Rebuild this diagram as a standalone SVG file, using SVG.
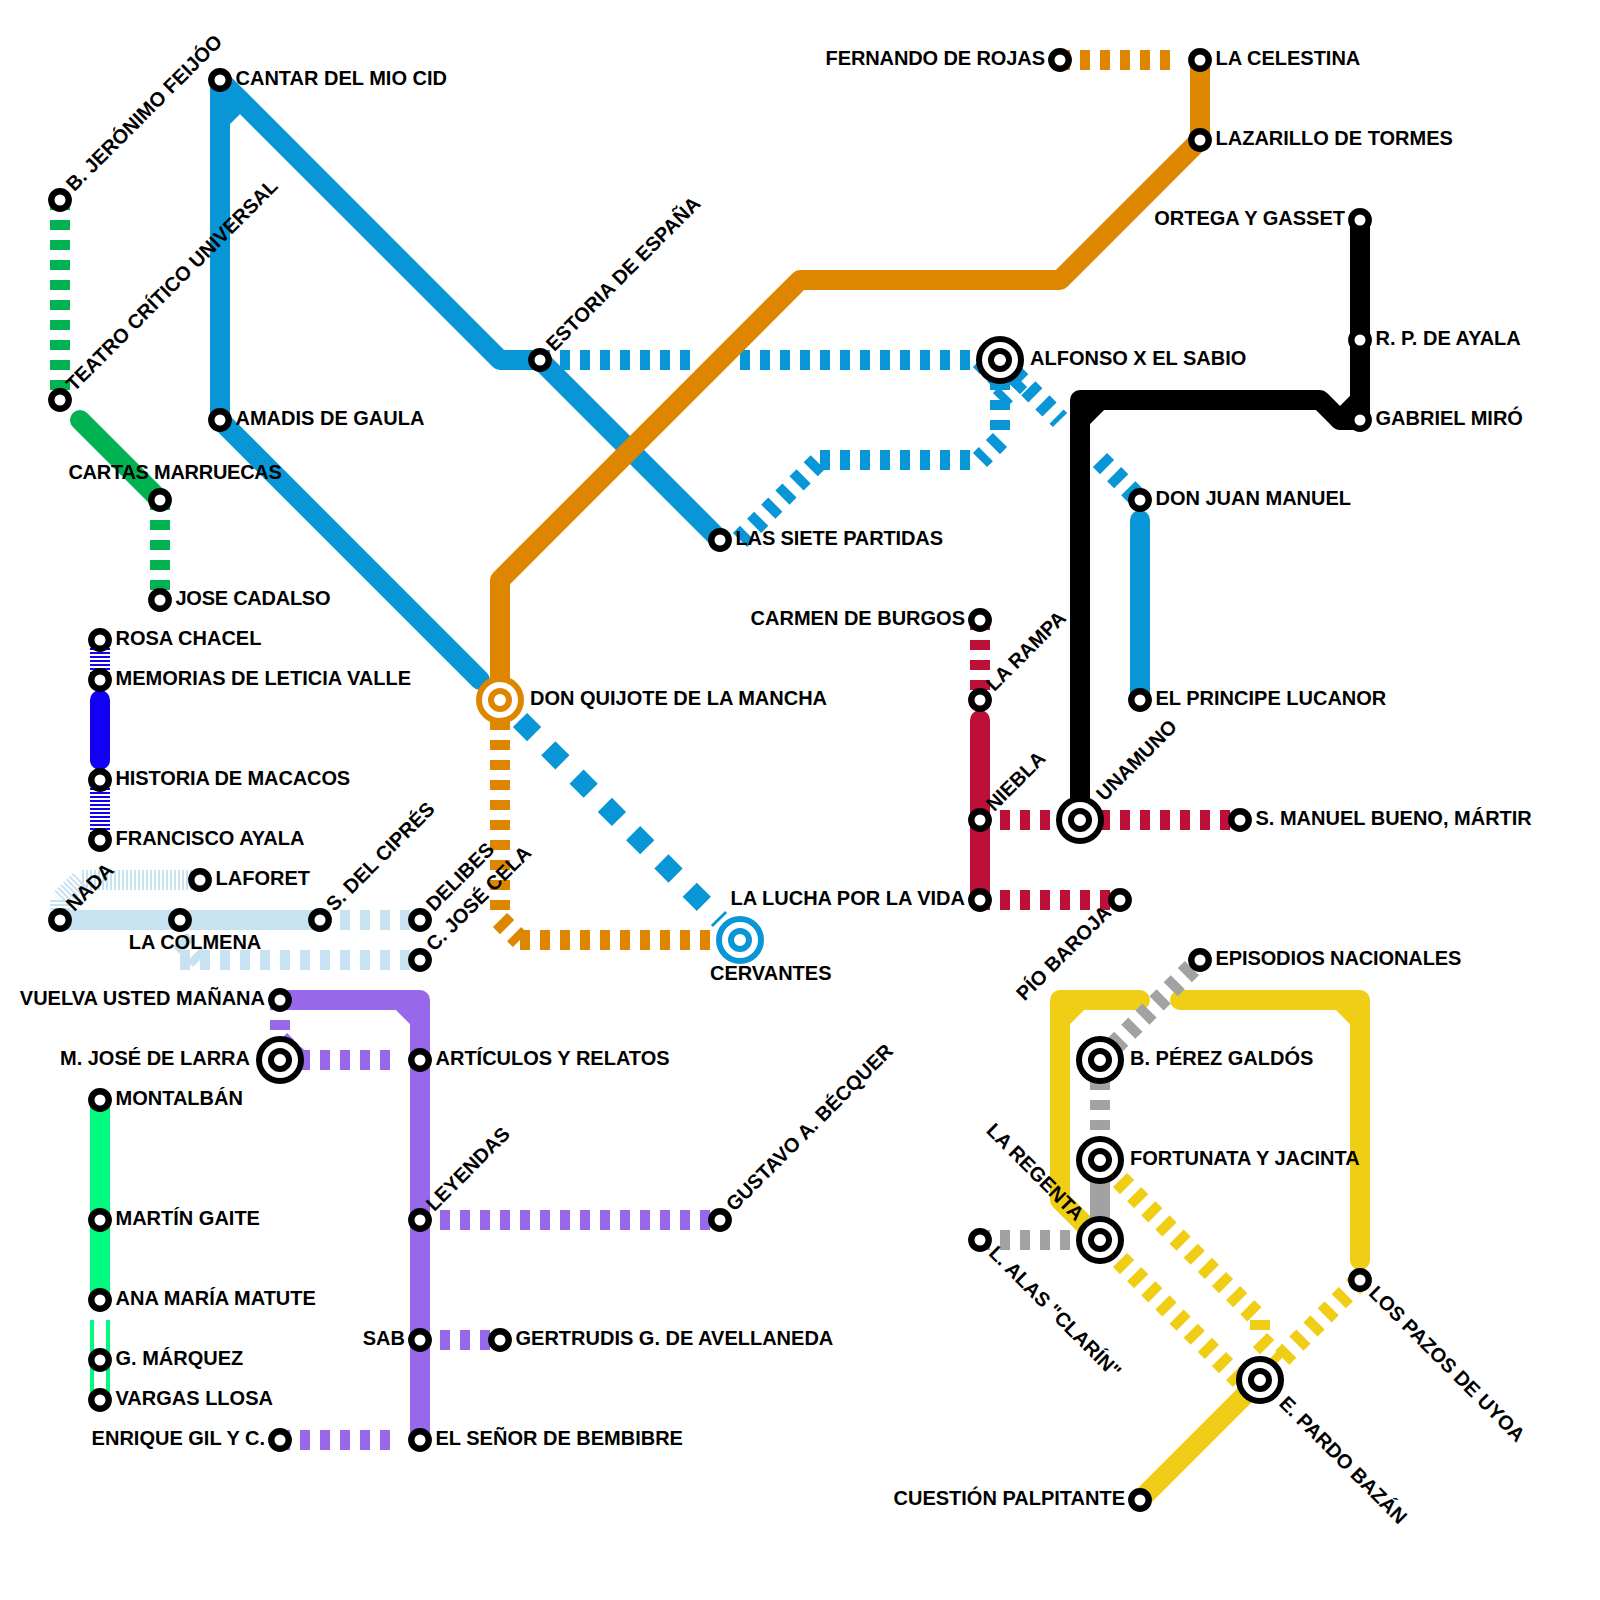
<svg xmlns="http://www.w3.org/2000/svg" width="1600" height="1600" viewBox="0 0 1600 1600">
<style>
.l{fill:none;stroke-width:20}
.r{stroke-linecap:round;stroke-linejoin:round}
.d{stroke-dasharray:10 10}
.q{stroke-dasharray:20 20}
.n{stroke-dasharray:2 2}
.blue{stroke:#0896d7}.orange{stroke:#df8600}.green{stroke:#00b251}.red{stroke:#bd1038}.yellow{stroke:#f0ce15}.black{stroke:#000}.gray{stroke:#a2a2a2}.sky{stroke:#c7e3f1}.purple{stroke:#9868eb}.mint{stroke:#00fb7f}.navy{stroke:#1200f5}
.s{fill:#fff;stroke:#000;stroke-width:6.4}
.i{fill:#fff;stroke:#000;stroke-width:6}
text{font-family:"Liberation Sans",Arial,sans-serif;font-weight:700;font-size:20px;fill:#000}
.e{text-anchor:end}.m{text-anchor:middle}
</style>
<rect width="1600" height="1600" fill="#fff"/>
<g id="connectors">
<path class="l d green" d="M60 200V400"/>
<path class="l r green" d="M80 420L160 500"/>
<path class="l d green" d="M160 500V600"/>
<path class="l n navy" d="M100 640V680"/>
<path class="l r navy" d="M100 700V760"/>
<path class="l n navy" d="M100 780V840"/>
<path class="l n sky" d="M200 880H80"/>
<path class="l n sky" d="M80 880L60 900"/>
<path class="l n sky" d="M60 900V920"/>
<path class="l r sky" d="M60 920H320"/>
<path class="l d sky" d="M320 920H420"/>
<path class="l d sky" d="M180 920V940"/>
<path class="l d sky" d="M180 940L200 960"/>
<path class="l d sky" d="M180 960H420"/>
<path class="l r purple" d="M280 1000H420V1440"/>
<path class="l r purple" d="M400 1000L420 1020"/>
<path class="l d purple" d="M280 1000V1040"/>
<path class="l d purple" d="M280 1040L300 1060"/>
<path class="l d purple" d="M300 1060H400"/>
<path class="l d purple" d="M420 1220H720"/>
<path class="l d purple" d="M420 1340H500"/>
<path class="l d purple" d="M280 1440H400"/>
<path class="l r mint" d="M100 1100V1300"/>
<path class="l mint" d="M100 1320V1400"/>
<path fill="none" stroke="#fff" stroke-width="12" d="M100 1320V1400"/>
<path class="l r blue" d="M220 420V80L500 360H540L720 540"/>
<path class="l r blue" d="M220 120L240 100"/>
<path class="l r blue" d="M220 420L480 680"/>
<path class="l q blue" d="M520 720L720 920"/>
<path class="l d blue" d="M540 360H700"/>
<path class="l d blue" d="M740 360H1000"/>
<path class="l d blue" d="M1000 360L1060 420"/>
<path class="l d blue" d="M1100 460L1140 500"/>
<path class="l d blue" d="M980 360L1000 380"/>
<path class="l d blue" d="M1020 380L1000 400"/>
<path class="l d blue" d="M1000 360V440"/>
<path class="l d blue" d="M1000 440L980 460"/>
<path class="l d blue" d="M820 460H980"/>
<path class="l d blue" d="M740 540L820 460"/>
<path class="l r blue" d="M1140 520V700"/>
<path class="l d orange" d="M1060 60H1180"/>
<path class="l r orange" d="M1200 60V140L1060 280H800L500 580V700"/>
<path class="l d orange" d="M500 700V920"/>
<path class="l d orange" d="M500 920L520 940"/>
<path class="l d orange" d="M520 940H740"/>
<path class="l r black" d="M1080 820V400H1320L1340 420H1360V220"/>
<path class="l r black" d="M1080 420L1100 400"/>
<path class="l r black" d="M1340 420L1360 400"/>
<path class="l d red" d="M980 620V700"/>
<path class="l r red" d="M980 720V900"/>
<path class="l d red" d="M980 820H1080"/>
<path class="l d red" d="M1080 820H1240"/>
<path class="l d red" d="M980 900H1120"/>
<path class="l r yellow" d="M1140 1000H1060V1200L1100 1240"/>
<path class="l r yellow" d="M1060 1020L1080 1000"/>
<path class="l r yellow" d="M1180 1000H1360V1260"/>
<path class="l r yellow" d="M1340 1000L1360 1020"/>
<path class="l d gray" d="M1100 1060L1200 960"/>
<path class="l d gray" d="M1100 1060V1160"/>
<path class="l gray" d="M1100 1160V1240"/>
<path class="l d gray" d="M980 1240H1100"/>
<path class="l d yellow" d="M1120 1180L1260 1320"/>
<path class="l d yellow" d="M1260 1320V1340"/>
<path class="l d yellow" d="M1260 1340L1280 1360"/>
<path class="l d yellow" d="M1120 1260L1240 1380"/>
<path class="l d yellow" d="M1360 1280L1260 1380"/>
<path class="l r yellow" d="M1260 1380L1140 1500"/>
</g>
<g id="n-feijoo"><circle class="s" cx="60" cy="200" r="8.7"/><text x="75.5" y="204.5" transform="rotate(-45 60 200)">B. JERÓNIMO FEIJÓO</text></g>
<g id="n-teatro"><circle class="s" cx="60" cy="400" r="8.7"/><text x="75.5" y="404.5" transform="rotate(-45 60 400)">TEATRO CRÍTICO UNIVERSAL</text></g>
<g id="n-cartas"><circle class="s" cx="160" cy="500" r="8.7"/><text x="68.4" y="479" textLength="213.5">CARTAS MARRUECAS</text></g>
<g id="n-cadalso"><circle class="s" cx="160" cy="600" r="8.7"/><text x="175.5" y="604.5" textLength="155">JOSE CADALSO</text></g>
<g id="n-chacel"><circle class="s" cx="100" cy="640" r="8.7"/><text x="115.5" y="644.5">ROSA CHACEL</text></g>
<g id="n-memorias"><circle class="s" cx="100" cy="680" r="8.7"/><text x="115.5" y="684.5">MEMORIAS DE LETICIA VALLE</text></g>
<g id="n-macacos"><circle class="s" cx="100" cy="780" r="8.7"/><text x="115.5" y="784.5" textLength="234.7">HISTORIA DE MACACOS</text></g>
<g id="n-fayala"><circle class="s" cx="100" cy="840" r="8.7"/><text x="115.5" y="844.5">FRANCISCO AYALA</text></g>
<g id="n-laforet"><circle class="s" cx="200" cy="880" r="8.7"/><text x="215.5" y="884.5">LAFORET</text></g>
<g id="n-nada"><circle class="s" cx="60" cy="920" r="8.7"/><text x="75.5" y="924.5" transform="rotate(-45 60 920)">NADA</text></g>
<g id="n-colmena"><circle class="s" cx="180" cy="920" r="8.7"/><text class="m" x="195" y="949">LA COLMENA</text></g>
<g id="n-cipres"><circle class="s" cx="320" cy="920" r="8.7"/><text x="335.5" y="924.5" transform="rotate(-45 320 920)">S. DEL CIPRÉS</text></g>
<g id="n-delibes"><circle class="s" cx="420" cy="920" r="8.7"/><text x="435.5" y="924.5" transform="rotate(-45 420 920)">DELIBES</text></g>
<g id="n-cela"><circle class="s" cx="420" cy="960" r="8.7"/><text x="435.5" y="964.5" transform="rotate(-45 420 960)">C. JOSÉ CELA</text></g>
<g id="n-vuelva"><circle class="s" cx="280" cy="1000" r="8.7"/><text class="e" x="265" y="1004.5">VUELVA USTED MAÑANA</text></g>
<g id="n-larra"><circle class="i" cx="280" cy="1060" r="21"/><circle class="i" cx="280" cy="1060" r="9"/><text class="e" x="250" y="1064.5">M. JOSÉ DE LARRA</text></g>
<g id="n-articulos"><circle class="s" cx="420" cy="1060" r="8.7"/><text x="435.5" y="1064.5">ARTÍCULOS Y RELATOS</text></g>
<g id="n-leyendas"><circle class="s" cx="420" cy="1220" r="8.7"/><text x="435.5" y="1224.5" transform="rotate(-45 420 1220)">LEYENDAS</text></g>
<g id="n-becquer"><circle class="s" cx="720" cy="1220" r="8.7"/><text x="735.5" y="1224.5" transform="rotate(-45 720 1220)">GUSTAVO A. BÉCQUER</text></g>
<g id="n-sab"><circle class="s" cx="420" cy="1340" r="8.7"/><text class="e" x="405" y="1344.5">SAB</text></g>
<g id="n-gertrudis"><circle class="s" cx="500" cy="1340" r="8.7"/><text x="515.5" y="1344.5">GERTRUDIS G. DE AVELLANEDA</text></g>
<g id="n-bembibre"><circle class="s" cx="420" cy="1440" r="8.7"/><text x="435.5" y="1444.5">EL SEÑOR DE BEMBIBRE</text></g>
<g id="n-gil"><circle class="s" cx="280" cy="1440" r="8.7"/><text class="e" x="265" y="1444.5">ENRIQUE GIL Y C.</text></g>
<g id="n-montalban"><circle class="s" cx="100" cy="1100" r="8.7"/><text x="115.5" y="1104.5">MONTALBÁN</text></g>
<g id="n-gaite"><circle class="s" cx="100" cy="1220" r="8.7"/><text x="115.5" y="1224.5">MARTÍN GAITE</text></g>
<g id="n-matute"><circle class="s" cx="100" cy="1300" r="8.7"/><text x="115.5" y="1304.5">ANA MARÍA MATUTE</text></g>
<g id="n-marquez"><circle class="s" cx="100" cy="1360" r="8.7"/><text x="115.5" y="1364.5">G. MÁRQUEZ</text></g>
<g id="n-vargas"><circle class="s" cx="100" cy="1400" r="8.7"/><text x="115.5" y="1404.5">VARGAS LLOSA</text></g>
<g id="n-cantar"><circle class="s" cx="220" cy="80" r="8.7"/><text x="235.5" y="84.5">CANTAR DEL MIO CID</text></g>
<g id="n-amadis"><circle class="s" cx="220" cy="420" r="8.7"/><text x="235.5" y="424.5">AMADIS DE GAULA</text></g>
<g id="n-estoria"><circle class="s" cx="540" cy="360" r="8.7"/><text x="555.5" y="364.5" transform="rotate(-45 540 360)">ESTORIA DE ESPAÑA</text></g>
<g id="n-alfonso"><circle class="i" cx="1000" cy="360" r="21"/><circle class="i" cx="1000" cy="360" r="9"/><text x="1030" y="364.5">ALFONSO X EL SABIO</text></g>
<g id="n-partidas"><circle class="s" cx="720" cy="540" r="8.7"/><text x="735.5" y="544.5" textLength="207.5">LAS SIETE PARTIDAS</text></g>
<g id="n-quijote"><circle class="i" style="stroke:#df8600" cx="500" cy="700" r="21"/><circle class="i" style="stroke:#df8600" cx="500" cy="700" r="9"/><text x="530" y="704.5">DON QUIJOTE DE LA MANCHA</text></g>
<g id="n-cervantes"><circle class="i" style="stroke:#0896d7" cx="740" cy="940" r="21"/><circle class="i" style="stroke:#0896d7" cx="740" cy="940" r="9"/><text x="710" y="979.5">CERVANTES</text></g>
<g id="n-rojas"><circle class="s" cx="1060" cy="60" r="8.7"/><text x="825.6" y="64.5" textLength="219.4">FERNANDO DE ROJAS</text></g>
<g id="n-celestina"><circle class="s" cx="1200" cy="60" r="8.7"/><text x="1215.5" y="64.5">LA CELESTINA</text></g>
<g id="n-lazarillo"><circle class="s" cx="1200" cy="140" r="8.7"/><text x="1215.5" y="144.5">LAZARILLO DE TORMES</text></g>
<g id="n-ortega"><circle class="s" cx="1360" cy="220" r="8.7"/><text class="e" x="1345" y="224.5">ORTEGA Y GASSET</text></g>
<g id="n-rpayala"><circle class="s" cx="1360" cy="340" r="8.7"/><text x="1375.5" y="344.5">R. P. DE AYALA</text></g>
<g id="n-miro"><circle class="s" cx="1360" cy="420" r="8.7"/><text x="1375.5" y="424.5">GABRIEL MIRÓ</text></g>
<g id="n-donjuan"><circle class="s" cx="1140" cy="500" r="8.7"/><text x="1155.5" y="504.5">DON JUAN MANUEL</text></g>
<g id="n-lucanor"><circle class="s" cx="1140" cy="700" r="8.7"/><text x="1155.5" y="704.5">EL PRINCIPE LUCANOR</text></g>
<g id="n-burgos"><circle class="s" cx="980" cy="620" r="8.7"/><text class="e" x="965" y="624.5">CARMEN DE BURGOS</text></g>
<g id="n-rampa"><circle class="s" cx="980" cy="700" r="8.7"/><text x="995.5" y="704.5" transform="rotate(-45 980 700)">LA RAMPA</text></g>
<g id="n-niebla"><circle class="s" cx="980" cy="820" r="8.7"/><text x="995.5" y="824.5" transform="rotate(-45 980 820)">NIEBLA</text></g>
<g id="n-lucha"><circle class="s" cx="980" cy="900" r="8.7"/><text class="e" x="965" y="904.5">LA LUCHA POR LA VIDA</text></g>
<g id="n-unamuno"><circle class="i" cx="1080" cy="820" r="21"/><circle class="i" cx="1080" cy="820" r="9"/><text x="1110" y="824.5" transform="rotate(-45 1080 820)">UNAMUNO</text></g>
<g id="n-bueno"><circle class="s" cx="1240" cy="820" r="8.7"/><text x="1255.5" y="824.5">S. MANUEL BUENO, MÁRTIR</text></g>
<g id="n-baroja"><circle class="s" cx="1120" cy="900" r="8.7"/><text class="e" x="1105" y="904.5" transform="rotate(-45 1120 900)">PÍO BAROJA</text></g>
<g id="n-episodios"><circle class="s" cx="1200" cy="960" r="8.7"/><text x="1215.5" y="964.5" textLength="245.9">EPISODIOS NACIONALES</text></g>
<g id="n-galdos"><circle class="i" cx="1100" cy="1060" r="21"/><circle class="i" cx="1100" cy="1060" r="9"/><text x="1130" y="1064.5">B. PÉREZ GALDÓS</text></g>
<g id="n-fortunata"><circle class="i" cx="1100" cy="1160" r="21"/><circle class="i" cx="1100" cy="1160" r="9"/><text x="1130" y="1164.5">FORTUNATA Y JACINTA</text></g>
<g id="n-regenta"><circle class="i" cx="1100" cy="1240" r="21"/><circle class="i" cx="1100" cy="1240" r="9"/><text class="e" x="1070" y="1244.5" transform="rotate(45 1100 1240)">LA REGENTA</text></g>
<g id="n-clarin"><circle class="s" cx="980" cy="1240" r="8.7"/><text x="995.5" y="1244.5" transform="rotate(45 980 1240)">L. ALAS "CLARÍN"</text></g>
<g id="n-pazos"><circle class="s" cx="1360" cy="1280" r="8.7"/><text x="1375.5" y="1284.5" transform="rotate(45 1360 1280)">LOS PAZOS DE UYOA</text></g>
<g id="n-bazan"><circle class="i" cx="1260" cy="1380" r="21"/><circle class="i" cx="1260" cy="1380" r="9"/><text x="1290" y="1384.5" transform="rotate(45 1260 1380)">E. PARDO BAZÁN</text></g>
<g id="n-palpitante"><circle class="s" cx="1140" cy="1500" r="8.7"/><text class="e" x="1125" y="1504.5">CUESTIÓN PALPITANTE</text></g>
</svg>
